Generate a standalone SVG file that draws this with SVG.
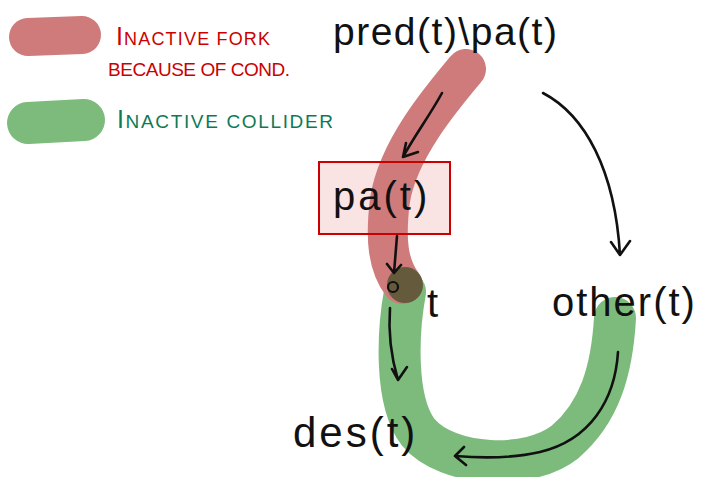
<svg xmlns="http://www.w3.org/2000/svg" width="706" height="477" viewBox="0 0 706 477">
<style>
.band{fill:none;stroke-linecap:round;stroke-linejoin:round}
.red{stroke:#cf7b7b}
.grn{stroke:#7dbb7d}
.lbl{font-family:"Liberation Sans",Arial,sans-serif;fill:#111}
.leg{font-family:"Liberation Sans",Arial,sans-serif}
.arr{fill:none;stroke:#111;stroke-width:2.6;stroke-linecap:round;stroke-linejoin:round}
</style>
<rect width="706" height="477" fill="#fff"/>
<g id="legend">
<path class="band red" d="M28 37 L82 35" stroke-width="38"/>
<path class="band grn" d="M28 123 L84 120" stroke-width="42"/>
<text class="leg" x="116" y="45" font-size="18" fill="#cc0000" textLength="154" lengthAdjust="spacing"><tspan font-size="25">I</tspan>NACTIVE FORK</text>
<text class="leg" x="108" y="76" font-size="19" fill="#cc0000" textLength="182" lengthAdjust="spacing">BECAUSE OF COND.</text>
<text class="leg" x="117" y="128" font-size="19" fill="#0d7a55" textLength="216" lengthAdjust="spacing"><tspan font-size="25">I</tspan>NACTIVE COLLIDER</text>
</g>
<g id="pa-box-fill">
<rect x="319" y="162" width="131" height="72" fill="#f9e3e3"/>
</g>
<g id="paths">
<path class="band grn" d="M405 292 C398 330,394 400,418 432 C448 468,530 470,565 442 C600 412,612 370,615 318" stroke-width="42"/>
<path class="band red" d="M466 69 C440 100,398 150,390 200 C385 240,388 265,402 284" stroke-width="40"/>
<circle cx="405" cy="285" r="18" fill="#665a3c"/>
</g>
<g id="pa">
<rect x="319" y="162" width="131" height="72" fill="none" stroke="#cc0000" stroke-width="2"/>
<text class="lbl" x="333" y="210" font-size="40" letter-spacing="3">pa(t)</text>
</g>
<g id="pred">
<text class="lbl" x="333" y="45" font-size="39" letter-spacing="1.5">pred(t)\pa(t)</text>
</g>
<g id="t">
<circle cx="393" cy="287" r="5" fill="none" stroke="#111" stroke-width="2.2"/>
<text class="lbl" x="427" y="317" font-size="40">t</text>
</g>
<g id="other">
<text class="lbl" x="552" y="316" font-size="40" letter-spacing="2">other(t)</text>
</g>
<g id="des">
<text class="lbl" x="293" y="447" font-size="42" letter-spacing="3">des(t)</text>
</g>
<g id="connectors">
<path class="arr" d="M442 93 C430 115,415 135,403 157 M406 143 L403 157 L418 152"/>
<path class="arr" d="M397 236 L394 273 M387 264 L394 273 L401 265"/>
<path class="arr" d="M543 93 C585 115,615 170,620 255 M611 242 L620 255 L630 241"/>
<path class="arr" d="M390 308 C388 335,392 360,398 380 M392 369 L398 380 L407 367"/>
<path class="arr" d="M618 352 C615 400,590 440,540 452 C510 459,480 458,455 456 M464 447 L455 456 L466 465"/>
</g>
</svg>
